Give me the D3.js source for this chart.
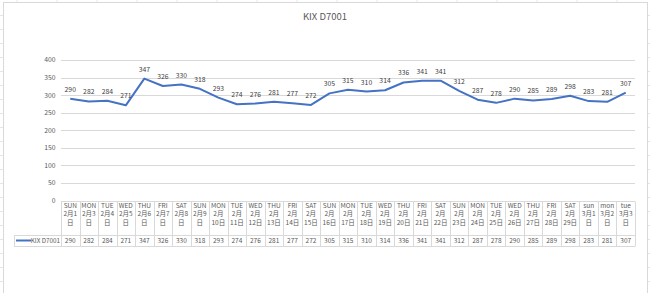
<!DOCTYPE html>
<html>
<head>
<meta charset="UTF-8">
<title>KIX D7001</title>
<style>
body { margin: 0; background: #fff; }
text { font-family: "Noto Sans CJK JP", "Noto Sans", sans-serif; }
</style>
</head>
<body>
<svg width="650" height="293"></svg>
<script src="https://d3js.org/d3.v7.min.js"></script>
<script>
// data
var seriesName = "KIX D7001";
var days = ["SUN","MON","TUE","WED","THU","FRI","SAT",
            "SUN","MON","TUE","WED","THU","FRI","SAT",
            "SUN","MON","TUE","WED","THU","FRI","SAT",
            "SUN","MON","TUE","WED","THU","FRI","SAT",
            "sun","mon","tue"];
var dates = ["2月1日","2月3日","2月4日","2月5日","2月6日","2月7日","2月8日","2月9日",
             "2月10日","2月11日","2月12日","2月13日","2月14日","2月15日","2月16日",
             "2月17日","2月18日","2月19日","2月20日","2月21日","2月22日","2月23日",
             "2月24日","2月25日","2月26日","2月27日","2月28日","2月29日",
             "3月1日","3月2日","3月3日"];
var values = [290,282,284,271,347,326,330,318,293,274,276,281,277,272,305,
              315,310,314,336,341,341,312,287,278,290,285,289,298,283,281,307];
var yTicks = [0,50,100,150,200,250,300,350,400];

var svg = d3.select("svg"),
    width = +svg.attr("width"),
    height = +svg.attr("height");

var gridCol = "#d9d9d9",
    textCol = "#595959",
    lineCol = "#4472c4";

// spreadsheet cells behind the chart
var sheet = svg.append("g");
d3.range(1, 22).forEach(function(i) {
  sheet.append("line").attr("x1", 0).attr("x2", width)
    .attr("y1", i * 14 + 1.5).attr("y2", i * 14 + 1.5)
    .attr("stroke", "#e6e6e6");
});
d3.range(0, 17).forEach(function(i) {
  sheet.append("line").attr("y1", 0).attr("y2", height)
    .attr("x1", 17 + i * 40).attr("x2", 17 + i * 40)
    .attr("stroke", "#e6e6e6");
});

// chart area
svg.append("rect")
  .attr("x", 3.5).attr("y", 2.5)
  .attr("width", 644).attr("height", 300)
  .attr("fill", "#fff").attr("stroke", "#d9d9d9");

svg.append("text")
  .attr("x", 325).attr("y", 20)
  .attr("text-anchor", "middle")
  .attr("font-size", 9.5)
  .attr("fill", textCol)
  .text(seriesName);

var x = d3.scaleBand().domain(d3.range(values.length)).range([61, 635]);
var y = d3.scaleLinear().domain([0, 400]).range([200.5, 60]);

// gridlines + y labels
var grid = svg.append("g");
grid.selectAll("line").data(yTicks.filter(function(d) { return d > 0; })).enter()
  .append("line")
  .attr("x1", 61).attr("x2", 635)
  .attr("y1", function(d) { return Math.round(y(d)) + 0.5; })
  .attr("y2", function(d) { return Math.round(y(d)) + 0.5; })
  .attr("stroke", gridCol);

grid.selectAll("text").data(yTicks).enter()
  .append("text")
  .attr("x", 55.5)
  .attr("y", function(d) { return y(d); })
  .attr("dy", "0.35em")
  .attr("text-anchor", "end")
  .attr("font-size", 6.8)
  .attr("fill", textCol)
  .text(function(d) { return d; });

// line
var cx = function(d, i) { return x(i) + x.bandwidth() / 2; };
svg.append("path")
  .datum(values)
  .attr("fill", "none")
  .attr("stroke", lineCol)
  .attr("stroke-width", 2)
  .attr("stroke-linejoin", "round")
  .attr("d", d3.line().x(cx).y(function(d) { return y(d); }));

svg.append("g").selectAll("text").data(values).enter()
  .append("text")
  .attr("x", cx)
  .attr("y", function(d) { return y(d) - 7; })
  .attr("text-anchor", "middle")
  .attr("font-size", 6.8)
  .attr("fill", "#404040")
  .text(function(d) { return d; });

// data table
var tTop = 201.5, tMid = 235.5, tBot = 246.5;
var table = svg.append("g");

function hline(x1, x2, yy) {
  table.append("line").attr("x1", x1).attr("x2", x2)
    .attr("y1", yy).attr("y2", yy).attr("stroke", gridCol);
}
hline(61, 635, tTop);
hline(14, 635, tMid);
hline(14, 635, tBot);
table.append("line").attr("x1", 14.5).attr("x2", 14.5)
  .attr("y1", tMid).attr("y2", tBot).attr("stroke", gridCol);

table.selectAll(".col").data(d3.range(values.length + 1)).enter()
  .append("line")
  .attr("x1", function(i) { return Math.round(61 + i * x.bandwidth()) + 0.5; })
  .attr("x2", function(i) { return Math.round(61 + i * x.bandwidth()) + 0.5; })
  .attr("y1", tTop).attr("y2", tBot)
  .attr("stroke", gridCol);

function dateLines(s) {
  var m = s.match(/^(\d+月)(\d+)日$/);
  if (m[2].length == 1) return [m[1] + m[2], "日"];
  return [m[1], m[2] + "日"];
}

var head = table.selectAll(".head").data(days).enter()
  .append("text")
  .attr("text-anchor", "middle")
  .attr("font-size", 6.5)
  .attr("fill", textCol);
head.each(function(d, i) {
  var t = d3.select(this);
  var lines = [d].concat(dateLines(dates[i]));
  lines.forEach(function(l, k) {
    t.append("tspan")
      .attr("x", x(i) + x.bandwidth() / 2)
      .attr("y", 207.5 + k * 8.8)
      .text(l);
  });
});

table.selectAll(".val").data(values).enter()
  .append("text")
  .attr("x", cx)
  .attr("y", 243.3)
  .attr("text-anchor", "middle")
  .attr("font-size", 6.5)
  .attr("fill", textCol)
  .text(function(d) { return d; });

// legend key in table
table.append("line")
  .attr("x1", 16).attr("x2", 31)
  .attr("y1", 240.5).attr("y2", 240.5)
  .attr("stroke", lineCol).attr("stroke-width", 2);
table.append("text")
  .attr("x", 60).attr("y", 243.3)
  .attr("text-anchor", "end")
  .attr("font-size", 6.3)
  .attr("fill", textCol)
  .text(seriesName);
</script>
</body>
</html>
